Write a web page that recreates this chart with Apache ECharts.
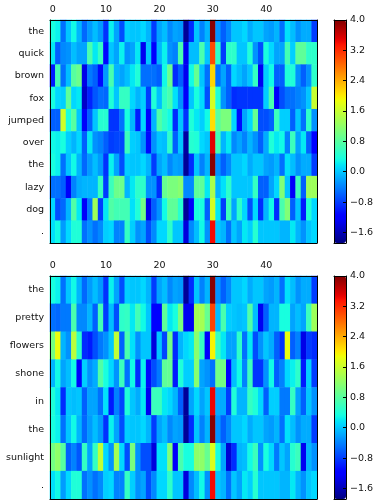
<!DOCTYPE html>
<html>
<head>
<meta charset="utf-8">
<style>
html, body { margin: 0; padding: 0; background: #fff; }
#chart { width: 380px; height: 502px; }
</style>
<script src="https://cdn.jsdelivr.net/npm/echarts@6/dist/echarts.min.js"></script>
</head>
<body>
<div id="chart"></div>
<script>
// one row per word, 50 columns each
const rowThe = [0.35,0.25,-0.5,0,0.3,-0.1,-0.55,-0.25,-0.05,-0.25,
    -0.85,0.25,-0.2,-0.7,0.05,0,0,0.1,-0.1,-0.8,
    -0.2,-0.05,-0.35,-0.2,-0.25,-1.75,-0.9,0,-0.4,-0.1,
    3.95,-0.3,-0.6,-0.35,0,0,0.1,-0.15,0,0,
    -0.2,-0.25,-0.1,-0.5,0.15,-0.05,-0.3,-0.15,-0.15,-0.8];
const rowQuick = [0.2,-0.6,-0.35,-0.3,-0.05,-0.2,-0.2,0.7,0.2,0.55,
    -1.1,0,-0.2,0.25,-0.3,-0.2,0.2,-1.3,0,-1.2,
    -0.1,0.25,-0.3,-0.4,0.7,-1.3,-0.05,-0.05,0.7,0,
    3,0.5,-0.8,0.5,0.5,0,0,0.4,-0.3,-0.7,
    0.35,0.1,-0.2,-0.2,0.65,0.05,0.85,0.85,0.5,0.5];
const rowBrown = [-1,0.65,-0.5,-0.05,0.8,0.95,-1.35,-0.45,-0.6,-1.1,
    -0.25,0.7,-0.1,-0.2,-0.05,0.2,0.4,-0.5,-0.5,-0.5,
    -0.6,0.3,0.95,-0.9,-0.6,-1.3,0.3,0.9,0,-0.5,
    2.15,-0.5,-0.2,-0.6,0.1,-0.05,-0.2,0,0.55,-1.3,
    0.05,0.3,-0.6,-0.6,0.4,0.4,-0.3,-0.6,-0.3,0.5];
const rowFox = [0.35,0.1,0.05,0.85,0.1,0.2,-1.5,-0.95,-0.65,-0.5,
    -0.55,0.4,0,0.55,0.55,0.1,-0.1,0.05,-0.8,0.4,
    -0.05,0.5,0.7,0.15,-0.3,-1.25,0,0.35,0.1,-0.7,
    1.7,0.4,-0.3,-0.6,-0.9,-0.85,-0.85,-0.85,-0.85,-0.85,
    0.05,0.7,-1.25,-0.7,-0.5,-0.5,-0.4,-0.3,0,1.6];
const rowJumped = [-0.6,-0.6,1.65,0.35,0.8,0,-1.25,-0.6,0,0.45,
    0.45,-0.85,-0.85,-0.5,0.35,-0.1,-1,0.1,-1.15,-0.1,
    0.75,0.5,0.3,-0.9,0,-0.85,0.4,0.2,0.05,0.3,
    2.1,0.8,1.05,1.05,0.1,-1.1,-0.2,0.1,0.9,-0.7,
    -0.7,-0.6,0.6,0.05,0.05,-0.6,0,-0.5,0.5,-0.3];
const rowOver = [0.3,0.25,0.35,0.05,-0.1,0.1,-0.6,0.2,-0.3,-0.4,
    -0.6,-0.8,-0.75,-0.75,0.6,0.05,0,-0.3,-1.1,-0.3,
    0,-0.05,0.5,-0.6,0,-1.7,0.45,0.4,0.1,0,
    3.5,0.65,-0.1,0.2,-0.35,-0.2,-0.4,-0.1,-0.3,-0.6,
    -0.15,0.4,0.2,0.3,-0.4,0.6,-0.2,0.2,-0.6,-1.2];
const rowLazy = [-0.5,-0.5,-0.6,-1.25,-0.4,-0.15,-0.1,-0.1,-0.1,0.55,
    -0.8,0.6,0.95,0.95,-0.1,0.2,0.5,0.5,-0.3,-0.3,
    -0.9,0.9,1.05,1.05,1.15,-0.35,-0.35,0.85,0.85,0.2,
    1.4,-0.1,0.15,0.5,0,0,0,0,0.55,-0.6,
    -0.6,-0.2,0.1,1.1,0,-1.25,0.6,-0.6,1.3,1.3];
const rowDog = [0.1,-0.7,-0.55,-0.1,0.75,0.2,-1.25,-0.45,1.3,-0.8,
    0.2,0.75,0.65,0.65,0.65,0.15,0.4,1,-1.35,-0.6,
    -0.3,0.3,0.85,0.85,0.45,-1.75,-1.25,0.35,0.35,-0.6,
    1.7,0.2,-0.8,0.6,-0.2,0.5,0.1,-0.7,0.1,-0.9,
    -0.1,0.3,-0.9,0.7,1.1,-0.6,0,-1,0.4,0.1];
const rowDot = [0.15,0.3,-0.25,0.1,0.4,0.4,-0.5,-0.3,-0.5,-0.35,
    0.05,0.1,-0.4,-0.4,0.55,0.05,-0.3,-0.2,-0.7,-0.35,
    0.1,0.1,0.5,0,0,-1.4,-0.35,-0.05,0.3,-0.3,
    3.4,0,-0.1,-0.5,0,-0.2,0.2,0.05,0.45,0,
    0,0,0,-0.1,-0.1,0.2,-0.1,-0.3,0,0.1];
const rowPretty = [-0.5,-0.55,-0.45,-0.45,0.7,-0.35,-0.35,-0.1,-0.6,0.65,
    -0.8,-0.05,-0.7,0.5,0.55,0.2,0.65,0.3,0,-1.2,
    -1.2,0.85,0.2,0.35,1.05,-1.3,-1.3,1.35,1.35,0.9,
    3.05,-0.05,0.7,0.05,0,-0.05,0,0.75,-0.05,-1.3,
    -0.6,-0.1,-0.1,0.35,0.35,-0.2,-0.05,-0.2,0.6,1.3];
const rowFlowers = [1,1.85,-0.1,-0.3,1.5,0.5,-0.9,-1,-0.7,-0.45,
    -0.3,0,1.55,-0.6,0.7,0.15,-0.3,0,0,-1.4,
    0,-0.75,1,-0.9,-0.1,0.1,0.2,1.15,0.55,-1.15,
    1.95,0.55,0.2,-0.2,-0.2,0.5,-0.5,0.2,-0.7,-0.3,
    0,-0.15,-0.6,-0.85,1.85,-0.6,-0.4,-1.35,-0.8,-0.9];
const rowShone = [-0.1,0.3,-0.2,-0.05,0.3,-1.2,0.05,-0.3,-0.15,0.75,
    0.35,0.1,-0.3,0.6,-0.5,0.3,-0.9,0.25,-1.1,-0.7,
    -0.45,0.85,0.9,-1,0.4,0.05,0.05,1.15,-0.2,-0.3,
    -0.5,1,1,-1.15,-0.05,0.3,-0.4,0.6,-0.85,-0.85,
    -0.3,0.3,-0.6,-0.4,0.1,0.25,0.5,-1,0.05,-0.8];
const rowIn = [0.4,0.2,-0.9,0,-0.05,0,-0.6,-0.2,-0.2,-0.5,
    0.15,-1,-0.4,-0.75,0.4,0,-0.15,0.2,-1.3,0.6,
    0.6,0.2,0.1,-0.1,-0.6,-1.75,-0.2,0.1,-0.2,0,
    3.45,-0.15,-0.15,-0.8,0.4,-0.1,-0.1,0.55,0.4,0.1,
    -0.6,0.05,0.05,-0.45,-0.45,0.55,-0.2,-0.6,0,-0.3];
const rowSunlight = [1,1.2,0.8,-0.6,-0.4,-0.65,0.55,-0.2,0.55,1.55,
    0.1,-0.3,1.35,0.1,-0.7,1.05,-0.3,-0.7,-0.7,-1.4,
    0.15,0.15,1.1,-1.25,0.7,0.35,0.35,1.2,1.2,0.9,
    1.75,0.35,-0.2,-1.45,-0.9,-0.1,-0.05,0.3,0.6,-0.3,
    0.35,0.1,-0.45,0,-0.2,0.45,0.6,-1.3,-0.1,-0.3];

const wordsTop = ['the', 'quick', 'brown', 'fox', 'jumped', 'over', 'the', 'lazy', 'dog', '.'];
const rowsTop = [rowThe, rowQuick, rowBrown, rowFox, rowJumped, rowOver, rowThe, rowLazy, rowDog, rowDot];
const wordsBottom = ['the', 'pretty', 'flowers', 'shone', 'in', 'the', 'sunlight', '.'];
const rowsBottom = [rowThe, rowPretty, rowFlowers, rowShone, rowIn, rowThe, rowSunlight, rowDot];
const columns = rowThe.map((v, i) => String(i));
const colorbarTicks = [-1.6, -0.8, 0, 0.8, 1.6, 2.4, 3.2, 4];
const valueMin = -1.88;
const valueMax = 4;

// matplotlib jet
function lerp(pts, t) {
    for (let i = 1; i < pts.length; i++) {
        if (t <= pts[i][0]) {
            const a = pts[i - 1], b = pts[i];
            return a[1] + (b[1] - a[1]) * (t - a[0]) / (b[0] - a[0]);
        }
    }
    return pts[pts.length - 1][1];
}
const jet = [];
for (let i = 0; i <= 128; i++) {
    const t = i / 128;
    const r = lerp([[0, 0], [0.35, 0], [0.66, 1], [0.89, 1], [1, 0.5]], t);
    const g = lerp([[0, 0], [0.125, 0], [0.375, 1], [0.64, 1], [0.91, 0], [1, 0]], t);
    const b = lerp([[0, 0.5], [0.11, 1], [0.34, 1], [0.65, 0], [1, 0]], t);
    jet.push('rgb(' + Math.round(r * 255) + ',' + Math.round(g * 255) + ',' + Math.round(b * 255) + ')');
}

const font = 'DejaVu Sans';
const fontSize = 9.5;
const black = {show: true, onZero: false, lineStyle: {color: '#000', width: 1}};
const blackTick = {lineStyle: {color: '#000', width: 1}};

function cells(rows) {
    const out = [];
    rows.forEach((row, y) => row.forEach((v, x) => out.push([x, y, v])));
    return out;
}

const panels = [
    {words: wordsTop, rows: rowsTop, top: 20, height: 223},
    {words: wordsBottom, rows: rowsBottom, top: 276, height: 223}
];

const grid = [], xAxis = [], yAxis = [], series = [], visualMap = [];
panels.forEach((p, n) => {
    const g = n * 2;
    grid.push({left: 50, top: p.top, width: 267, height: p.height});
    grid.push({left: 334, top: p.top, width: 12, height: p.height});

    xAxis.push({
        type: 'category', gridIndex: g, position: 'top', data: columns, z: 10,
        axisLine: black,
        axisTick: {inside: true, length: 3, interval: 9, alignWithLabel: true, ...blackTick},
        axisLabel: {interval: 9, margin: 5, fontFamily: font, fontSize, color: '#111'}
    });
    xAxis.push({
        type: 'category', gridIndex: g, position: 'bottom', data: columns, z: 10,
        axisLine: black,
        axisTick: {inside: true, length: 3, interval: 9, alignWithLabel: true, ...blackTick},
        axisLabel: {show: false}
    });
    yAxis.push({
        type: 'category', gridIndex: g, position: 'left', inverse: true, data: p.words, z: 10,
        axisLine: black,
        axisTick: {inside: true, length: 3, alignWithLabel: true, ...blackTick},
        axisLabel: {interval: 0, margin: 6, fontFamily: font, fontSize, color: '#111'}
    });
    yAxis.push({
        type: 'category', gridIndex: g, position: 'right', inverse: true, data: p.words, z: 10,
        axisLine: black,
        axisTick: {inside: true, length: 3, alignWithLabel: true, ...blackTick},
        axisLabel: {show: false}
    });

    // colorbar frame and ticks, the gradient itself comes from the visualMap
    xAxis.push({
        type: 'category', gridIndex: g + 1, data: [''], z: 10,
        axisLine: black, axisTick: {show: false}, axisLabel: {show: false}
    });
    xAxis.push({
        type: 'category', gridIndex: g + 1, position: 'top', data: [''], z: 10,
        axisLine: black, axisTick: {show: false}, axisLabel: {show: false}
    });
    yAxis.push({
        type: 'value', gridIndex: g + 1, position: 'right', min: valueMin, max: valueMax, z: 10,
        splitLine: {show: false},
        axisLine: black,
        axisTick: {show: true, inside: true, length: 3, customValues: colorbarTicks, ...blackTick},
        axisLabel: {
            customValues: colorbarTicks, margin: 4, fontFamily: font, fontSize, color: '#111',
            formatter: v => v.toFixed(1).replace('-', '\u2212')
        }
    });
    yAxis.push({
        type: 'value', gridIndex: g + 1, position: 'left', min: valueMin, max: valueMax, z: 10,
        splitLine: {show: false},
        axisLine: black,
        axisTick: {show: false}, axisLabel: {show: false}
    });

    series.push({
        type: 'heatmap',
        xAxisIndex: n * 4,
        yAxisIndex: n * 4,
        data: cells(p.rows),
        silent: true,
        emphasis: {disabled: true},
        progressive: 0
    });
    visualMap.push({
        type: 'continuous', seriesIndex: n, min: valueMin, max: valueMax, dimension: 2,
        left: 334, top: p.top, itemWidth: 12, itemHeight: p.height, padding: 0,
        calculable: false, realtime: false, text: ['', ''], showLabel: false, textGap: 0,
        inRange: {color: jet},
        handleStyle: {opacity: 0}, indicatorStyle: {opacity: 0}
    });
});

const myChart = echarts.init(document.getElementById('chart'), null, {renderer: 'canvas'});
myChart.setOption({
    animation: false,
    backgroundColor: '#fff',
    grid, xAxis, yAxis, series, visualMap
});
</script>
</body>
</html>
